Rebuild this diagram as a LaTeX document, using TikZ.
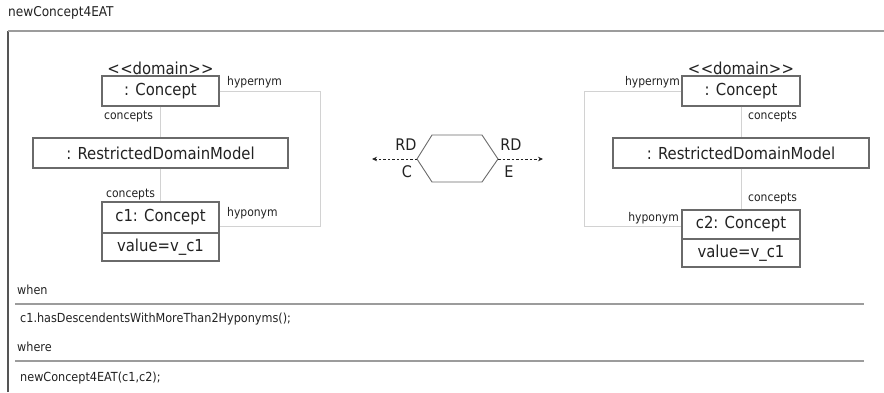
\documentclass[tikz,border=0pt]{standalone}
\usepackage{fontspec}
\setmainfont{DejaVu Sans Condensed}
\usetikzlibrary{arrows.meta}
\definecolor{boxgray}{HTML}{6A6A6A}
\definecolor{linkgray}{HTML}{D2D2D2}
\definecolor{rulegray}{HTML}{9C9C9C}
\definecolor{framegray}{HTML}{555555}
\definecolor{ink}{HTML}{222222}
\newcommand{\stereotype}[1]{<\kern0.5pt<#1>\kern0.5pt>}
\begin{document}
\begin{tikzpicture}[x=1pt,y=-1pt,
  box/.style={draw=boxgray, line width=1.1pt, fill=white, inner sep=0pt,
    minimum width=117pt, minimum height=30pt, text=ink,
    font=\fontsize{16.5}{16.5}\selectfont},
  stereo/.style={text=ink, inner sep=0pt, font=\fontsize{16.5}{16.5}\selectfont},
  role/.style={text=ink, inner sep=0pt, font=\fontsize{12}{12}\selectfont},
  portlbl/.style={text=ink, inner sep=0pt, font=\fontsize{16}{16}\selectfont},
  clause/.style={text=ink, inner sep=0pt, anchor=west, font=\fontsize{12.5}{12.5}\selectfont},
  assoc/.style={draw=linkgray, line width=0.8pt},
  hexline/.style={draw=boxgray, line width=0.9pt},
  flow/.style={draw=ink, line width=0.8pt, dashed, dash pattern=on 2.5pt off 2pt,
    -{Stealth[length=5pt,width=4.5pt]}},
  sep/.style={draw=rulegray, line width=1.4pt}
]
\useasboundingbox (0,0) rectangle (884,392);

% title and outer frame
\node[text=ink, inner sep=0pt, anchor=west, font=\fontsize{13.5}{13.5}\selectfont] (title) at (8,13) {newConcept4EAT};
\coordinate (frameBL) at (8,392);
\coordinate (frameTL) at (8,31);
\coordinate (frameTR) at (884,31);
\draw[draw=framegray, line width=1.2pt] (frameBL) -- (frameTL);
\draw[draw=rulegray, line width=1.4pt] (frameTL) -- (frameTR);

% ---------- left pattern ----------
\coordinate (lb1) at (320,91);
\coordinate (lb2) at (320,226);
\node[box] (lc) at (160.5,91) {: Concept};
\node[box, minimum width=255pt] (lrdm) at (160.5,153) {: RestrictedDomainModel};
\node[box, minimum height=31pt] (c1) at (160.5,217.5) {c1: Concept};
\node[box, minimum height=28pt] (c1v) at (160.5,247) {value=v\_c1};
\draw[assoc] (lc.south) -- (lrdm.north);
\draw[assoc] (lrdm.south) -- (c1.north);
\draw[assoc] (lc.east) -- (lb1) -- (lb2) -- (lb2 -| c1.east);
\node[stereo] (ldom) at (160.5,68) {\stereotype{domain}};
\node[role, anchor=west] (lhyper) at (227,82) {hypernym};
\node[role, anchor=west] (lhypo) at (227,213) {hyponym};
\node[role, anchor=west] (lcon1) at (104,117) {concepts};
\node[role, anchor=west] (lcon2) at (106,195) {concepts};

% ---------- transformation hexagon ----------
\coordinate (hexL) at (417,159);
\coordinate (hexR) at (498,159);
\coordinate (outL) at (372,159);
\coordinate (outR) at (543,159);
\draw[hexline] (hexL) -- (432,135) -- (482,135) -- (hexR) -- (482,182) -- (432,182) -- cycle;
\draw[flow] (hexL) -- (outL);
\draw[flow] (hexR) -- (outR);
\node[portlbl] (rdL) at (406,145) {RD};
\node[portlbl] (cL) at (407,172) {C};
\node[portlbl] (rdR) at (511,145) {RD};
\node[portlbl] (eR) at (509,172) {E};

% ---------- right pattern ----------
\coordinate (rb1) at (584,91);
\coordinate (rb2) at (584,226);
\node[box, minimum width=118pt] (rc) at (741,91) {: Concept};
\node[box, minimum width=256pt] (rrdm) at (741,153) {: RestrictedDomainModel};
\node[box, minimum width=118pt, minimum height=29pt] (c2) at (741,224.5) {c2: Concept};
\node[box, minimum width=118pt, minimum height=28pt] (c2v) at (741,253) {value=v\_c1};
\draw[assoc] (rc.south) -- (rrdm.north);
\draw[assoc] (rrdm.south) -- (c2.north);
\draw[assoc] (rc.west) -- (rb1) -- (rb2) -- (rb2 -| c2.west);
\node[stereo] (rdom) at (741,68) {\stereotype{domain}};
\node[role, anchor=east] (rhyper) at (680,82) {hypernym};
\node[role, anchor=east] (rhypo) at (679,218) {hyponym};
\node[role, anchor=west] (rcon1) at (748,117) {concepts};
\node[role, anchor=west] (rcon2) at (748,199) {concepts};

% ---------- when / where clauses ----------
\coordinate (whenA) at (15,304);
\coordinate (whenB) at (864,304);
\coordinate (whereA) at (15,361);
\coordinate (whereB) at (864,361);
\node[clause] (when) at (17,290) {when};
\draw[sep] (whenA) -- (whenB);
\node[clause] (whenbody) at (20,319) {c1.hasDescendentsWithMoreThan2Hyponyms();};
\node[clause] (where) at (17,347) {where};
\draw[sep] (whereA) -- (whereB);
\node[clause] (wherebody) at (20,378) {newConcept4EAT(c1,c2);};
\end{tikzpicture}
\end{document}
